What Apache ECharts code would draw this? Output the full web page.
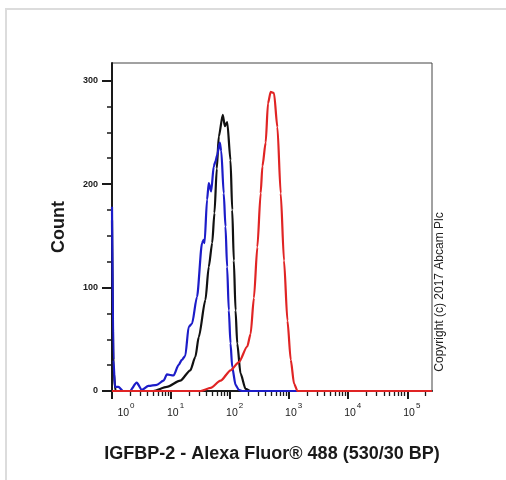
<!DOCTYPE html>
<html><head><meta charset="utf-8">
<script src="https://cdn.jsdelivr.net/npm/echarts@6/dist/echarts.min.js"></script>
<style>html,body{margin:0;padding:0;background:#fff}#c{width:506px;height:480px}</style>
</head><body><div id="c"></div>
<script>
// ---- data (fluorescence intensity, count) ----
const blueX = [1, 1.06, 1.12, 1.28, 1.55, 2.0, 2.62, 3.2, 4.14, 5.75, 7.45, 8.51, 11.0, 13.4, 15.2, 17.4, 19.9, 22.6, 27.5, 33.5, 35.7, 36.9, 40.7, 43.5, 47.8, 52.8, 56.5, 60.4, 66.8, 70.8, 78, 83.5, 89, 95, 101.6, 108.6, 123.6, 140.6, 160.7, 262144];
const blueY = [178, 30, 4, 4, 0, 0, 8, 1, 5, 6, 10, 16, 15, 25, 30, 34, 62, 65, 91, 143, 146, 143, 185, 201, 193, 217, 222, 228, 240, 232, 191, 159, 120, 78, 46, 23, 6, 1, 0, 0];

const blackX = [1, 1.06, 1.15, 5.0, 8.5, 14.3, 21.2, 25.8, 29.4, 38.2, 43.5, 49.7, 54.3, 59.5, 64.3, 75.2, 81.3, 89.3, 101.6, 108.6, 115.6, 123.6, 132, 150, 183, 222, 262144];
const blackY = [165, 20, 0, 0, 4, 10, 20, 33, 52, 88, 120, 143, 172, 215, 246, 267, 256, 260, 223, 175, 126, 78, 46, 17, 2, 0, 0];

const redX = [1, 31.6, 46.8, 69, 102, 141, 195, 222, 253, 289, 329, 352, 400, 438, 486, 553, 632, 719, 818, 935, 1064, 1211, 1384, 262144];
const redY = [0, 0, 3, 10, 20, 28, 43, 55, 90, 139, 191, 217, 240, 278, 289, 288, 255, 191, 126, 68, 30, 7, 0, 0];

// ---- axes / ticks ----
const xMin = 1, xMax = 262144;
const yMin = 0, yMax = 317;
const xMajorTicks = [1, 10, 100, 1000, 10000, 100000];
const xMinorTicks = [];
for (let d = 1; d <= 100000; d *= 10) for (let k = 2; k <= 9; k++) if (k * d <= xMax) xMinorTicks.push(k * d);
const yMajorTicks = [0, 100, 200, 300];
const yMinorTicks = [25, 50, 75, 125, 150, 175, 225, 250, 275];

const xTitle = 'IGFBP-2 - Alexa Fluor® 488 (530/30 BP)';
const yTitle = 'Count';
const copyright = 'Copyright (c) 2017 Abcam Plc';

const FONT = '"Liberation Sans", Arial, sans-serif';
const INK = '#1a1a1a';

function pairs(xs, ys) { return xs.map((x, i) => [x, ys[i]]); }

const chart = echarts.init(document.getElementById('c'), null, {renderer: 'canvas'});
chart.setOption({
  animation: false,
  backgroundColor: '#fff',
  grid: {left: 112, right: 74, top: 63, bottom: 89, show: true, borderColor: '#444', borderWidth: 1, backgroundColor: 'transparent', containLabel: false},
  xAxis: [
    {
      type: 'log', logBase: 10, min: xMin, max: xMax, position: 'bottom', offset: 0,
      axisLine: {show: true, onZero: false, lineStyle: {color: INK, width: 2}},
      axisTick: {show: true, customValues: xMajorTicks, length: 8, lineStyle: {color: INK, width: 2}},
      axisLabel: {
        customValues: xMajorTicks, margin: 16, color: INK,
        formatter: function (v) {
          const e = Math.round(Math.log10(v));
          return (e === 0 ? '{f|10}' : '{n|10}') + '{e|' + e + '}';
        },
        rich: {
          n: {fontSize: 10.5, fontFamily: FONT, color: INK, padding: [0, 0, 0, 9], verticalAlign: 'bottom', lineHeight: 12},
          f: {fontSize: 10.5, fontFamily: FONT, color: INK, padding: [0, 0, 0, 28], verticalAlign: 'bottom', lineHeight: 12},
          e: {fontSize: 8, fontFamily: FONT, color: INK, verticalAlign: 'bottom', lineHeight: 9, padding: [0, 0, 9, 1]}
        }
      },
      splitLine: {show: false},
      name: xTitle, nameLocation: 'middle', nameGap: 54,
      nameTextStyle: {fontSize: 18, fontWeight: 'bold', fontFamily: FONT, color: INK}
    },
    {
      type: 'log', logBase: 10, min: xMin, max: xMax, position: 'bottom', offset: 0,
      axisLine: {show: false, onZero: false},
      axisTick: {show: true, customValues: xMinorTicks, length: 5, lineStyle: {color: INK, width: 1.3}},
      axisLabel: {show: false},
      splitLine: {show: false}
    }
  ],
  yAxis: [
    {
      type: 'value', min: yMin, max: yMax, position: 'left', offset: 0,
      axisLine: {show: true, onZero: false, lineStyle: {color: INK, width: 2}},
      axisTick: {show: true, customValues: yMajorTicks, length: 10, lineStyle: {color: INK, width: 2}},
      axisLabel: {customValues: yMajorTicks, margin: 14, fontSize: 9, fontWeight: 'bold', fontFamily: FONT, color: INK},
      splitLine: {show: false},
      name: yTitle, nameLocation: 'middle', nameGap: 44,
      nameTextStyle: {fontSize: 18, fontWeight: 'bold', fontFamily: FONT, color: INK}
    },
    {
      type: 'value', min: yMin, max: yMax, position: 'left', offset: 0,
      axisLine: {show: false, onZero: false},
      axisTick: {show: true, customValues: yMinorTicks, length: 5, lineStyle: {color: INK, width: 1.5}},
      axisLabel: {show: false},
      splitLine: {show: false}
    }
  ],
  series: [
    {type: 'line', name: 'black', data: pairs(blackX, blackY), showSymbol: false, smooth: 0.25, smoothMonotone: 'x',
     lineStyle: {color: '#111111', width: 2.2}, itemStyle: {color: '#111111'}},
    {type: 'line', name: 'blue', data: pairs(blueX, blueY), showSymbol: false, smooth: 0.25, smoothMonotone: 'x',
     lineStyle: {color: '#1c1cc8', width: 2.2}, itemStyle: {color: '#1c1cc8'}},
    {type: 'line', name: 'red', data: pairs(redX, redY), showSymbol: false, smooth: 0.25, smoothMonotone: 'x',
     lineStyle: {color: '#e02424', width: 2.2}, itemStyle: {color: '#e02424'}}
  ],
  graphic: [
    {type: 'rect', silent: true, z: -1, shape: {x: 6, y: 9, width: 540, height: 520},
     style: {fill: 'none', stroke: '#dcdcdc', lineWidth: 2}},
    {type: 'text', silent: true, x: 440, y: 292, rotation: Math.PI / 2,
     style: {text: copyright, fontSize: 12, fontFamily: FONT, fill: '#222', align: 'center', verticalAlign: 'middle'}}
  ]
});
</script>
</body></html>
